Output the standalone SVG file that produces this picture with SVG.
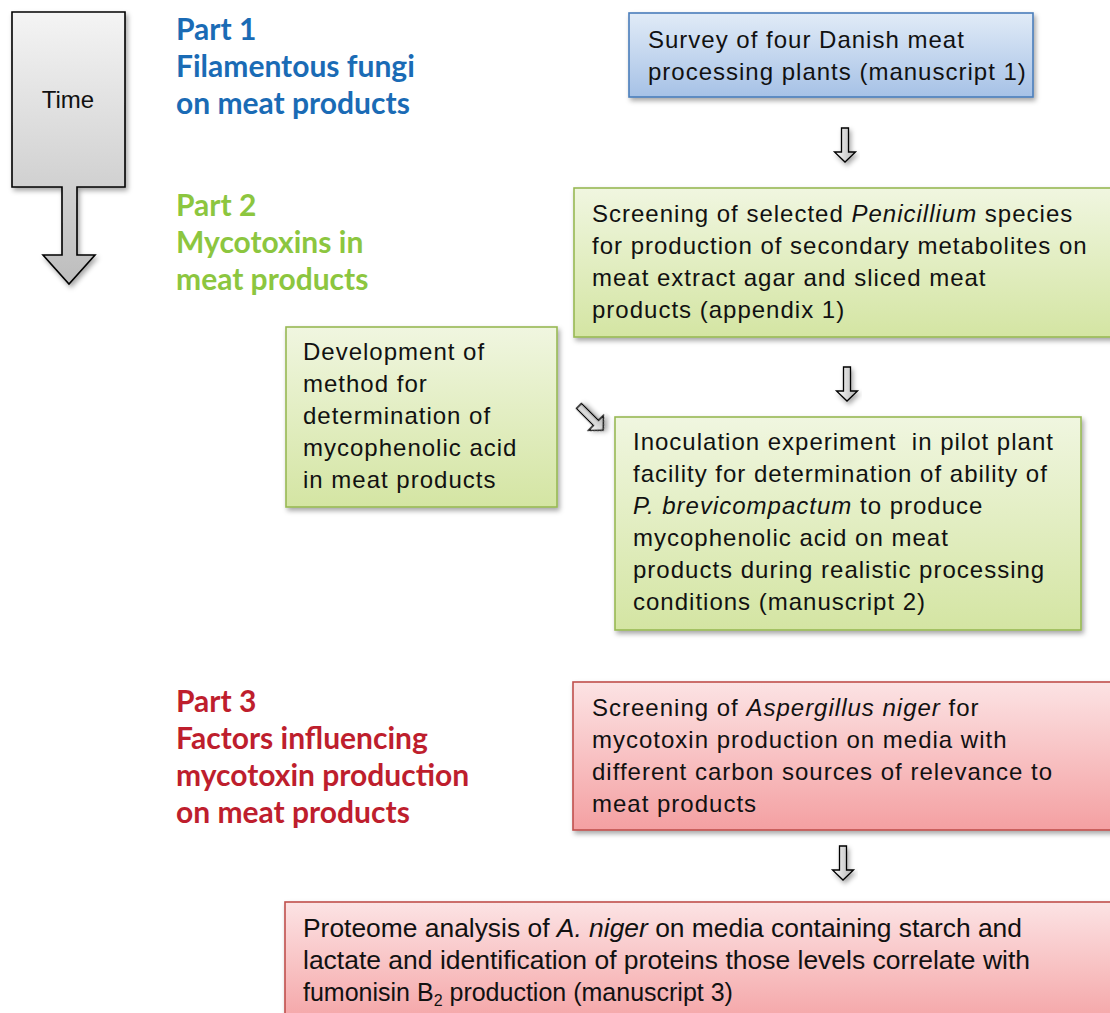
<svg xmlns="http://www.w3.org/2000/svg" width="1110" height="1013" viewBox="0 0 1110 1013">
<defs>
<linearGradient id="gBlue" x1="0" y1="0" x2="0" y2="1"><stop offset="0" stop-color="#e1ebf7"/><stop offset="1" stop-color="#a6c1e6"/></linearGradient>
<linearGradient id="gGreen" x1="0" y1="0" x2="0" y2="1"><stop offset="0" stop-color="#f0f6e0"/><stop offset="1" stop-color="#d4e5a3"/></linearGradient>
<linearGradient id="gRed" x1="0" y1="0" x2="0" y2="1"><stop offset="0" stop-color="#fce3e4"/><stop offset="1" stop-color="#f4a0a2"/></linearGradient>
<linearGradient id="gGray" x1="0" y1="0" x2="0" y2="1"><stop offset="0" stop-color="#f4f4f4"/><stop offset="1" stop-color="#bdbdbd"/></linearGradient>
<linearGradient id="gArr" x1="0" y1="0" x2="1" y2="0"><stop offset="0" stop-color="#ffffff"/><stop offset="1" stop-color="#b0b0b0"/></linearGradient>
<filter id="sh" x="-10%" y="-10%" width="130%" height="140%"><feDropShadow dx="2" dy="3" stdDeviation="2.5" flood-color="#000" flood-opacity="0.35"/></filter>
<path id="dArrow" d="M-3.5,0 H3.5 V24 H10.5 L0,34 L-10.5,24 H-3.5 Z"/>
</defs>
<style>
.box{stroke-width:1.6;filter:url(#sh)}
.blue{fill:url(#gBlue);stroke:#4a7ebb}
.green{fill:url(#gGreen);stroke:#98b954}
.red{fill:url(#gRed);stroke:#c0504d}
.t{font-family:"Liberation Sans",Arial,sans-serif;font-size:24px;letter-spacing:1px;fill:#111}
.n{font-family:"Liberation Sans",Arial,sans-serif;font-size:25px;fill:#111}
.i{font-style:italic}
.part{font-family:Lato,"Open Sans",sans-serif;font-weight:bold;font-size:30px}
.arr{fill:url(#gArr);stroke:#000;stroke-width:1.3;filter:url(#sh)}
</style>
<rect width="1110" height="1013" fill="#ffffff"/>

<g id="time">
<path d="M12,12 H125 V187 H77 V255 H95 L69,284 L43,255 H62 V187 H12 Z" fill="url(#gGray)" stroke="#000" stroke-width="1.6" filter="url(#sh)"/>
<text x="68" y="108" text-anchor="middle" font-family="Liberation Sans,Arial,sans-serif" font-size="24" fill="#111">Time</text>
</g>

<g id="part1" class="part" fill="#1a6bb5">
<text x="176" y="40">Part 1</text>
<text x="176" y="77">Filamentous fungi</text>
<text x="176" y="114">on meat products</text>
</g>
<g id="part2" class="part" fill="#8cc63f">
<text x="176" y="216">Part 2</text>
<text x="176" y="253">Mycotoxins in</text>
<text x="176" y="290">meat products</text>
</g>
<g id="part3" class="part" fill="#be1e2d">
<text x="176" y="712">Part 3</text>
<text x="176" y="749">Factors influencing</text>
<text x="176" y="786">mycotoxin production</text>
<text x="176" y="823">on meat products</text>
</g>

<g id="survey">
<rect class="box blue" x="629" y="13" width="404" height="84"/>
<text class="t" x="648" y="48">Survey of four Danish meat</text>
<text class="t" x="648" y="80">processing plants (manuscript 1)</text>
</g>

<g id="screening-penicillium">
<rect class="box green" x="574" y="188" width="545" height="149"/>
<text class="t" x="592" y="222">Screening of selected <tspan class="i">Penicillium</tspan> species</text>
<text class="t" x="592" y="254">for production of secondary metabolites on</text>
<text class="t" x="592" y="286">meat extract agar and sliced meat</text>
<text class="t" x="592" y="318">products (appendix 1)</text>
</g>

<g id="development">
<rect class="box green" x="286" y="327" width="271" height="180"/>
<text class="t" x="303" y="360">Development of</text>
<text class="t" x="303" y="392">method for</text>
<text class="t" x="303" y="424">determination of</text>
<text class="t" x="303" y="456">mycophenolic acid</text>
<text class="t" x="303" y="488">in meat products</text>
</g>

<g id="inoculation">
<rect class="box green" x="615" y="417" width="466" height="213"/>
<text class="t" x="633" y="450">Inoculation experiment&#160; in pilot plant</text>
<text class="t" x="633" y="482">facility for determination of ability of</text>
<text class="t" x="633" y="514"><tspan class="i">P. brevicompactum</tspan> to produce</text>
<text class="t" x="633" y="546">mycophenolic acid on meat</text>
<text class="t" x="633" y="578">products during realistic processing</text>
<text class="t" x="633" y="610">conditions (manuscript 2)</text>
</g>

<g id="screening-aspergillus">
<rect class="box red" x="573" y="682" width="546" height="148"/>
<text class="t" x="592" y="716">Screening of <tspan class="i">Aspergillus niger</tspan> for</text>
<text class="t" x="592" y="748">mycotoxin production on media with</text>
<text class="t" x="592" y="780">different carbon sources of relevance to</text>
<text class="t" x="592" y="812">meat products</text>
</g>

<g id="proteome">
<rect class="box red" x="285" y="902" width="835" height="130"/>
<text class="n" x="303" y="937" textLength="719" lengthAdjust="spacingAndGlyphs">Proteome analysis of <tspan class="i">A. niger</tspan> on media containing starch and</text>
<text class="n" x="303" y="969" textLength="727" lengthAdjust="spacingAndGlyphs">lactate and identification of proteins those levels correlate with</text>
<text class="n" x="303" y="1001">fumonisin B<tspan font-size="16" dy="5">2</tspan><tspan dy="-5"> production (manuscript 3)</tspan></text>
</g>

<g id="connectors">
<use href="#dArrow" class="arr" transform="translate(845,128)"/>
<use href="#dArrow" class="arr" transform="translate(847,367)"/>
<use href="#dArrow" class="arr" transform="translate(579,406) rotate(-45)"/>
<use href="#dArrow" class="arr" transform="translate(843,846)"/>
</g>
</svg>
